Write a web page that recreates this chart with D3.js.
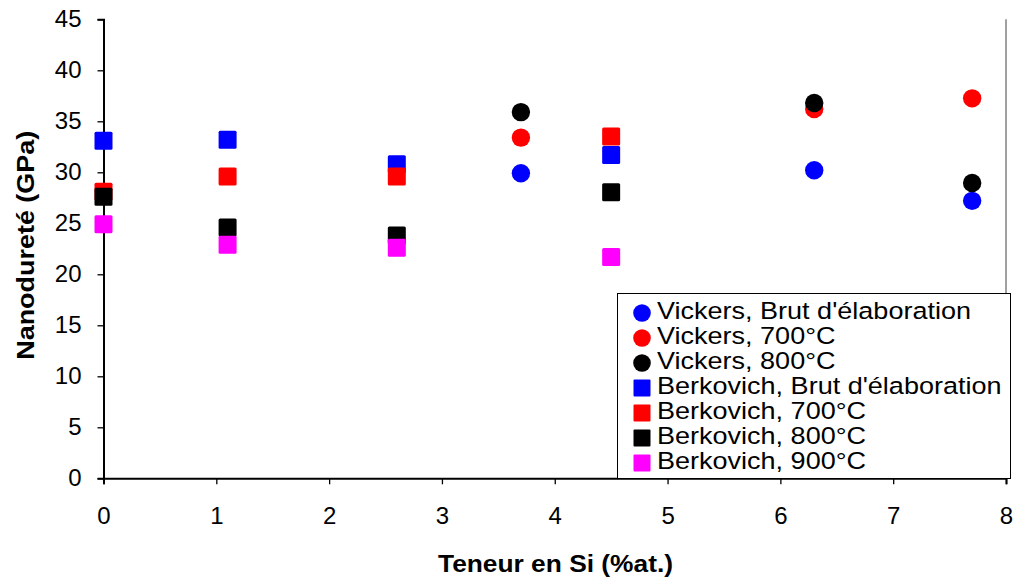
<!DOCTYPE html>
<html><head><meta charset="utf-8">
<script src="https://cdn.jsdelivr.net/npm/d3@7"></script>
<style>body{margin:0;background:#fff}svg{display:block}text{font-family:"Liberation Sans",Arial,sans-serif}</style>
</head><body><svg id="c" width="1014" height="578"></svg>
<script>
const xTicks = [0,1,2,3,4,5,6,7,8];
const yTicks = [0,5,10,15,20,25,30,35,40,45];
const seriesNames = ["Vickers, Brut d'élaboration","Vickers, 700°C","Vickers, 800°C","Berkovich, Brut d'élaboration","Berkovich, 700°C","Berkovich, 800°C","Berkovich, 900°C"];
const seriesShapes = ["circle","circle","circle","square","square","square","square"];
const seriesColors = ["#0000ff","#ff0000","#000000","#0000ff","#ff0000","#000000","#ff00ff"];
const vickersX = [3.7,6.3,7.7];
const vickersBrut = [29.9,30.2,27.2];
const vickers700 = [33.4,36.2,37.25];
const vickers800 = [35.9,36.8,28.95];
const berkX = [0,1.1,2.6,4.5];
const berkBrut = [33.1,33.2,30.8,31.7];
const berk700 = [28.1,29.6,29.6,33.5];
const berk800 = [27.6,24.6,23.8,28.05];
const berk900 = [24.9,22.9,22.6,21.7];
const seriesX = [vickersX,vickersX,vickersX,berkX,berkX,berkX,berkX];
const seriesY = [vickersBrut,vickers700,vickers800,berkBrut,berk700,berk800,berk900];

const svg = d3.select("#c");
const L=103.5,R=1006,T=19.3,B=478.3;
const x = d3.scaleLinear().domain([0,8]).range([L,R]);
const y = d3.scaleLinear().domain([0,45]).range([B,T]);

svg.append("line").attr("x1",R).attr("x2",R).attr("y1",T).attr("y2",B).attr("stroke","#808080").attr("stroke-width",1.5);

const xAxis = svg.append("g").attr("transform",`translate(0,${B})`)
  .call(d3.axisBottom(x).tickValues(xTicks).tickSize(6).tickPadding(23).tickFormat(d3.format("d")));
const yAxis = svg.append("g").attr("transform",`translate(${L},0)`)
  .call(d3.axisLeft(y).tickValues(yTicks).tickSize(6).tickPadding(16).tickFormat(d3.format("d")));
[xAxis,yAxis].forEach(a=>{
  a.select(".domain").attr("stroke","#000").attr("stroke-width",2);
  a.selectAll(".tick line").attr("stroke","#000").attr("stroke-width",1.3);
  a.selectAll(".tick text").attr("font-size",24).attr("fill","#000").style("font-family","Liberation Sans, Arial, sans-serif");
});

const sq=18, r=9.2;
seriesNames.forEach((n,i)=>{
  const g = svg.append("g");
  const pts = seriesX[i].map((xv,j)=>[xv,seriesY[i][j]]);
  if(seriesShapes[i]==="circle"){
    g.selectAll("circle").data(pts).join("circle")
      .attr("cx",d=>x(d[0])).attr("cy",d=>y(d[1])).attr("r",r).attr("fill",seriesColors[i]);
  } else {
    g.selectAll("rect").data(pts).join("rect")
      .attr("x",d=>x(d[0])-sq/2).attr("y",d=>y(d[1])-sq/2).attr("width",sq).attr("height",sq).attr("rx",1.5).attr("fill",seriesColors[i]);
  }
});

const lg = svg.append("g");
lg.append("rect").attr("x",617.5).attr("y",293.5).attr("width",393).attr("height",185).attr("fill","#fff").attr("stroke","#000").attr("stroke-width",1);
seriesNames.forEach((n,i)=>{
  const base = 318.5 + i*25;
  const cy = base - 5.5;
  if(seriesShapes[i]==="circle"){
    lg.append("circle").attr("cx",642).attr("cy",cy).attr("r",8.8).attr("fill",seriesColors[i]);
  } else {
    lg.append("rect").attr("x",633.5).attr("y",cy-8.5).attr("width",17).attr("height",17).attr("rx",1).attr("fill",seriesColors[i]);
  }
  lg.append("text").attr("transform",`translate(657,${base}) scale(1.15,1)`).attr("font-size",23.5).text(n);
});

svg.append("text").attr("x",555.5).attr("y",571.7).attr("text-anchor","middle").attr("font-size",23).attr("font-weight","bold")
  .attr("textLength",235).attr("lengthAdjust","spacingAndGlyphs").text("Teneur en Si (%at.)");
svg.append("text").attr("transform",`translate(34.3,245.3) rotate(-90)`).attr("text-anchor","middle").attr("font-size",23).attr("font-weight","bold")
  .attr("textLength",229).attr("lengthAdjust","spacingAndGlyphs").text("Nanodureté (GPa)");
</script></body></html>
